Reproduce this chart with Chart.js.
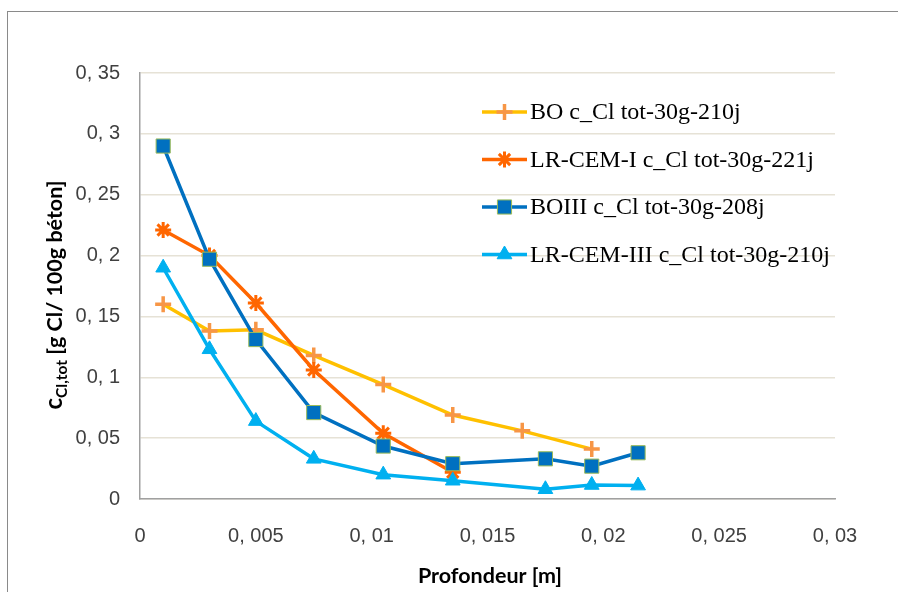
<!DOCTYPE html>
<html>
<head>
<meta charset="utf-8">
<script src="https://cdn.jsdelivr.net/npm/chart.js@4/dist/chart.umd.min.js"></script>
<style>
  html, body { margin: 0; padding: 0; background: #ffffff; }
  #wrap { width: 898px; height: 592px; position: relative; }
</style>
</head>
<body>
<div id="wrap"><canvas id="c"></canvas></div>
<script>
// ---- data ----
const seriesNames = [
  'BO c_Cl tot-30g-210j',
  'LR-CEM-I c_Cl tot-30g-221j',
  'BOIII c_Cl tot-30g-208j',
  'LR-CEM-III c_Cl tot-30g-210j'
];
const xBO      = [0.001, 0.003, 0.005, 0.0075, 0.0105, 0.0135, 0.0165, 0.0195];
const yBO      = [0.160, 0.138, 0.139, 0.118, 0.094, 0.069, 0.056, 0.041];
const xLRCEMI  = [0.001, 0.003, 0.005, 0.0075, 0.0105, 0.0135];
const yLRCEMI  = [0.221, 0.200, 0.161, 0.106, 0.054, 0.022];
const xBOIII   = [0.001, 0.003, 0.005, 0.0075, 0.0105, 0.0135, 0.0175, 0.0195, 0.0215];
const yBOIII   = [0.290, 0.197, 0.131, 0.071, 0.0435, 0.029, 0.033, 0.027, 0.038];
const xLRCEMIII = [0.001, 0.003, 0.005, 0.0075, 0.0105, 0.0135, 0.0175, 0.0195, 0.0215];
const yLRCEMIII = [0.190, 0.123, 0.064, 0.033, 0.020, 0.015, 0.008, 0.0115, 0.011];
const xTickLabels = ['0', '0, 005', '0, 01', '0, 015', '0, 02', '0, 025', '0, 03'];
const yTickLabels = ['0', '0, 05', '0, 1', '0, 15', '0, 2', '0, 25', '0, 3', '0, 35'];
const xTitle = 'Profondeur [m]';
const yTitleMain = 'c';
const yTitleSub = 'Cl,tot';
const yTitleRest = ' [g Cl/ 100g béton]';

function pts(xs, ys) { return xs.map((x, i) => ({ x: x, y: ys[i] })); }

const datasets = [
  { label: seriesNames[0], data: pts(xBO, yBO), borderColor: '#ffc000', borderWidth: 3.5,
    pointStyle: 'cross', pointRadius: 8, pointBorderColor: '#f79646', pointBackgroundColor: '#f79646',
    pointBorderWidth: 3.5, order: 4 },
  { label: seriesNames[1], data: pts(xLRCEMI, yLRCEMI), borderColor: '#ff6600', borderWidth: 3.5,
    pointStyle: 'star', pointRadius: 8, pointBorderColor: '#ff6600', pointBackgroundColor: '#ff6600',
    pointBorderWidth: 3, order: 3 },
  { label: seriesNames[2], data: pts(xBOIII, yBOIII), borderColor: '#0070c0', borderWidth: 3.5,
    pointStyle: 'rect', pointRadius: 10, pointBorderColor: '#9bbb59', pointBackgroundColor: '#0070c0',
    pointBorderWidth: 1, order: 2 },
  { label: seriesNames[3], data: pts(xLRCEMIII, yLRCEMIII), borderColor: '#00b0f0', borderWidth: 3.5,
    pointStyle: 'triangle', pointRadius: 8.5, pointBorderColor: '#00b0f0', pointBackgroundColor: '#00b0f0',
    pointBorderWidth: 1, order: 1 }
];
datasets.forEach(d => { d.tension = 0; d.fill = false; d.showLine = true; d.pointHoverRadius = d.pointRadius; });

const decor = {
  id: 'decor',
  beforeDraw(chart) {
    const ctx = chart.ctx;
    ctx.save();
    ctx.fillStyle = '#ffffff';
    ctx.fillRect(0, 0, chart.width, chart.height);
    ctx.strokeStyle = '#8a8a8a';
    ctx.lineWidth = 1;
    ctx.strokeRect(7.5, 11.5, chart.width + 10, chart.height + 10);
    ctx.restore();
  },
  afterDraw(chart) {
    const ctx = chart.ctx;
    ctx.save();
    // x title
    ctx.fillStyle = '#000000';
    ctx.font = 'bold 21.5px Lato';
    ctx.textAlign = 'center';
    ctx.textBaseline = 'middle';
    ctx.fillText(xTitle, 490, 576);
    // y title (rotated, with subscript)
    ctx.translate(55, 295);
    ctx.rotate(-Math.PI / 2);
    const fMain = 'bold 24px Lato', fSub = 'bold 15.5px Lato', fRest = 'bold 21.5px Lato';
    ctx.font = fMain; const w1 = ctx.measureText(yTitleMain).width;
    ctx.font = fSub; const w2 = ctx.measureText(yTitleSub).width;
    ctx.font = fRest; const w3 = ctx.measureText(yTitleRest).width;
    let x0 = -(w1 + w2 + w3) / 2;
    ctx.textAlign = 'left';
    ctx.textBaseline = 'alphabetic';
    ctx.font = fMain; ctx.fillText(yTitleMain, x0, 7); x0 += w1;
    ctx.font = fSub; ctx.fillText(yTitleSub, x0, 12); x0 += w2;
    ctx.font = fRest; ctx.fillText(yTitleRest, x0, 7);
    ctx.restore();

    // legend
    ctx.save();
    const rows = [112, 159.5, 207, 254.5];
    chart.data.datasets.forEach((ds, i) => {
      const y = rows[i];
      ctx.strokeStyle = ds.borderColor;
      ctx.lineWidth = ds.borderWidth;
      ctx.beginPath(); ctx.moveTo(482, y); ctx.lineTo(527, y); ctx.stroke();
      ctx.strokeStyle = ds.pointBorderColor;
      ctx.fillStyle = ds.pointBackgroundColor;
      ctx.lineWidth = ds.pointBorderWidth;
      Chart.helpers.drawPoint(ctx, { pointStyle: ds.pointStyle, radius: ds.pointRadius, rotation: 0, borderWidth: ds.pointBorderWidth }, 504.5, y);
      ctx.fillStyle = '#000000';
      ctx.font = '24px "Liberation Serif"';
      ctx.textAlign = 'left';
      ctx.textBaseline = 'middle';
      ctx.fillText(ds.label, 530, y + 1);
    });
    ctx.restore();
  }
};

new Chart(document.getElementById('c'), {
  type: 'scatter',
  data: { datasets: datasets },
  plugins: [decor],
  options: {
    responsive: true,
    maintainAspectRatio: false,
    animation: false,
    events: [],
    layout: { padding: { left: 0, top: 73, right: 63, bottom: 0 } },
    plugins: { legend: { display: false }, tooltip: { enabled: false }, title: { display: false } },
    scales: {
      x: {
        type: 'linear', min: 0, max: 0.03,
        afterFit(s) { s.height = 93; },
        afterBuildTicks(s) { s.ticks = xTickLabels.map((_, i) => ({ value: i * 0.005 })); },
        ticks: {
          autoSkip: false, maxRotation: 0, padding: 25, color: '#404040',
          font: { family: '"Liberation Sans"', size: 20 },
          callback: (v, i) => xTickLabels[i]
        },
        grid: { display: true, color: 'rgba(0,0,0,0)', drawTicks: false },
        border: { display: true, color: '#a0a0a0', width: 1.5 }
      },
      y: {
        type: 'linear', min: 0, max: 0.35,
        afterFit(s) { s.width = 140; },
        afterBuildTicks(s) { s.ticks = yTickLabels.map((_, i) => ({ value: i * 0.05 })); },
        ticks: {
          autoSkip: false, padding: 20, color: '#404040',
          font: { family: '"Liberation Sans"', size: 20 },
          callback: (v, i) => yTickLabels[i]
        },
        grid: { color: '#e6e2d6', lineWidth: 1.5, drawTicks: false },
        border: { display: true, color: '#a0a0a0', width: 1.5 }
      }
    }
  }
});
</script>
</body>
</html>
